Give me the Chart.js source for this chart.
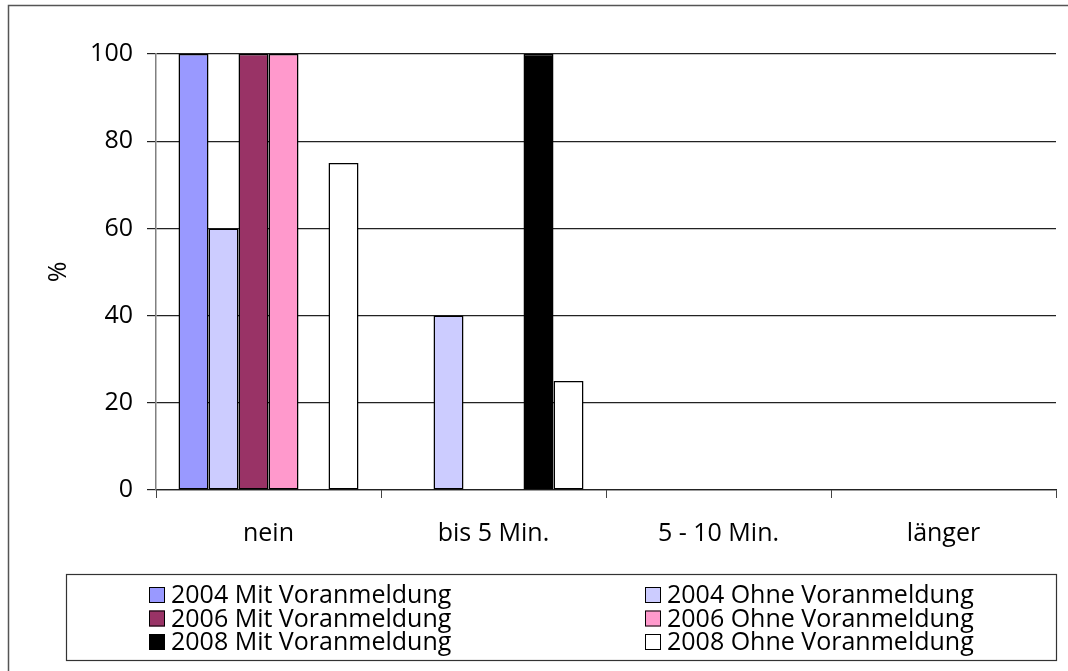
<!DOCTYPE html>
<html>
<head>
<meta charset="utf-8">
<script src="https://cdn.jsdelivr.net/npm/chart.js@4.4.1/dist/chart.umd.min.js"></script>
<style>
  html, body { margin: 0; padding: 0; background: #fff; }
  #wrap { width: 1068px; height: 671px; }
</style>
</head>
<body>
<div id="wrap"><canvas id="c" width="1068" height="671"></canvas></div>
<script>
// Wartezeit-Kategorien
const categories = ['nein', 'bis 5 Min.', '5 - 10 Min.', 'länger'];

// Anteile in Prozent je Erhebung
const mit2004 = [100, 0, 0, 0];
const ohne2004 = [60, 40, 0, 0];
const mit2006 = [100, 0, 0, 0];
const ohne2006 = [100, 0, 0, 0];
const mit2008 = [0, 100, 0, 0];
const ohne2008 = [75, 25, 0, 0];

const seriesNames = [
  '2004 Mit Voranmeldung', '2004 Ohne Voranmeldung',
  '2006 Mit Voranmeldung', '2006 Ohne Voranmeldung',
  '2008 Mit Voranmeldung', '2008 Ohne Voranmeldung'
];
const seriesValues = [mit2004, ohne2004, mit2006, ohne2006, mit2008, ohne2008];
const seriesColors = ['#9999FF', '#CCCCFF', '#993366', '#FF99CC', '#000000', '#FFFFFF'];

const yTicks = [0, 20, 40, 60, 80, 100];

const FONT = "'Open Sans', 'Noto Sans', sans-serif";
const FSIZE = 25;

// Rahmen um die gesamte Grafik
const framePlugin = {
  id: 'frame',
  beforeDraw(chart) {
    const ctx = chart.ctx;
    ctx.save();
    ctx.strokeStyle = '#555';
    ctx.lineWidth = 1.5;
    ctx.beginPath();
    ctx.moveTo(8.5, chart.height);
    ctx.lineTo(8.5, 5.5);
    ctx.lineTo(chart.width, 5.5);
    ctx.stroke();
    ctx.restore();
  }
};

// Legende in zwei Spalten mit Rahmen
const boxLegendPlugin = {
  id: 'boxLegend',
  afterDraw(chart) {
    const ctx = chart.ctx;
    ctx.save();
    ctx.strokeStyle = '#333';
    ctx.lineWidth = 1.2;
    ctx.strokeRect(66.5, 574.5, 990, 86);
    const colX = [149, 645];
    const rowY = [595, 618.5, 642];
    ctx.font = FSIZE + 'px ' + FONT;
    ctx.textBaseline = 'middle';
    ctx.textAlign = 'left';
    chart.data.datasets.forEach((ds, i) => {
      const x = colX[i % 2];
      const y = rowY[Math.floor(i / 2)];
      ctx.fillStyle = ds.backgroundColor;
      ctx.fillRect(x, y - 8, 16, 16);
      ctx.strokeStyle = '#000';
      ctx.lineWidth = 1;
      ctx.strokeRect(x + 0.5, y - 7.5, 15, 15);
      ctx.fillStyle = '#000';
      ctx.fillText(ds.label, x + 22, y + 1);
    });
    ctx.restore();
  }
};

new Chart(document.getElementById('c'), {
  type: 'bar',
  data: {
    labels: categories,
    datasets: seriesNames.map((name, i) => ({
      label: name,
      data: seriesValues[i],
      backgroundColor: seriesColors[i],
      borderColor: '#000',
      borderWidth: (c) => (c.raw ? 1.5 : 0),
      borderSkipped: false,
      categoryPercentage: 0.8,
      barPercentage: 1.0
    }))
  },
  options: {
    responsive: false,
    animation: false,
    devicePixelRatio: 1,
    layout: { padding: { left: 0, top: 54, right: 12, bottom: 0 } },
    plugins: {
      legend: { display: false },
      tooltip: { enabled: false }
    },
    scales: {
      x: {
        afterFit(scale) { scale.height = 181; },
        grid: {
          display: true,
          drawOnChartArea: false,
          drawTicks: true,
          tickLength: 8,
          color: '#444',
          offset: true
        },
        border: { display: true, color: '#222', width: 1.2 },
        ticks: {
          color: '#000',
          font: { family: FONT, size: FSIZE },
          padding: 21,
          maxRotation: 0
        }
      },
      y: {
        min: 0,
        max: 100,
        afterFit(scale) { scale.width = 156; },
        afterBuildTicks(scale) { scale.ticks = yTicks.map(v => ({ value: v })); },
        grid: {
          color: '#222',
          lineWidth: 1.2,
          tickLength: 9,
          drawTicks: true
        },
        border: { display: true, color: '#808080', width: 1.5 },
        ticks: {
          color: '#000',
          font: { family: FONT, size: FSIZE },
          padding: 14
        },
        title: {
          display: true,
          text: '%',
          color: '#000',
          font: { family: FONT, size: FSIZE },
          padding: { top: 44, bottom: 0 }
        }
      }
    }
  },
  plugins: [framePlugin, boxLegendPlugin]
});
</script>
</body>
</html>
